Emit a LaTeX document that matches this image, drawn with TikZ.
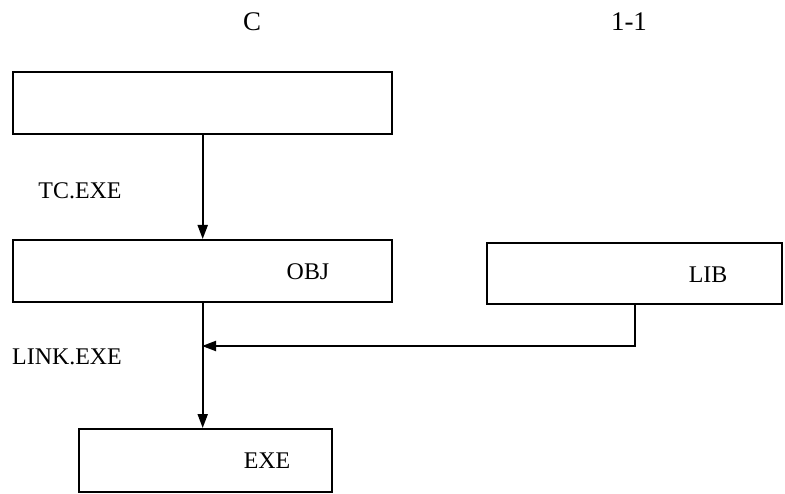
\documentclass[tikz,border=0pt]{standalone}
\usepackage{fontspec}
\setmainfont{Liberation Serif}
\usetikzlibrary{arrows.meta}
\begin{document}
\begin{tikzpicture}[x=1bp,y=-1bp,
  boxst/.style={draw,line width=2bp,rectangle,inner sep=0pt,anchor=north west},
  lbl/.style={inner sep=0pt,font=\fontsize{24}{28}\selectfont},
  ttl/.style={inner sep=0pt,font=\fontsize{27}{32}\selectfont},
  conn/.style={line width=2bp},
  arr/.style={conn,-{Triangle[length=14bp,width=10bp]}}]
\useasboundingbox (0,0) rectangle (785,494);
\node[ttl] (t1) at (252,22) {C};
\node[ttl] (t2) at (629,22) {1-1};
\node[boxst,line width=2.4bp,minimum width=379bp,minimum height=62bp] (b1) at (12,71) {};
\node[boxst,minimum width=379bp,minimum height=62bp] (b2) at (12,239) {};
\node[boxst,minimum width=295bp,minimum height=61bp] (b3) at (486,242) {};
\node[boxst,minimum width=253bp,minimum height=63bp] (b4) at (78,428) {};
\node[lbl] (l1) at (80,191) {TC.EXE};
\node[lbl] (l2) at (308,272) {OBJ};
\node[lbl] (l3) at (708,275) {LIB};
\node[lbl] (l4) at (67,357) {LINK.EXE};
\node[lbl] (l5) at (267,461) {EXE};
\coordinate (j) at (202,346);
\draw[arr] (b1.south) -- (b1.south |- b2.north);
\draw[arr] (b1.south |- b2.south) -- (b1.south |- b4.north);
\draw[arr] (b3.south) |- (j);
\end{tikzpicture}
\end{document}
